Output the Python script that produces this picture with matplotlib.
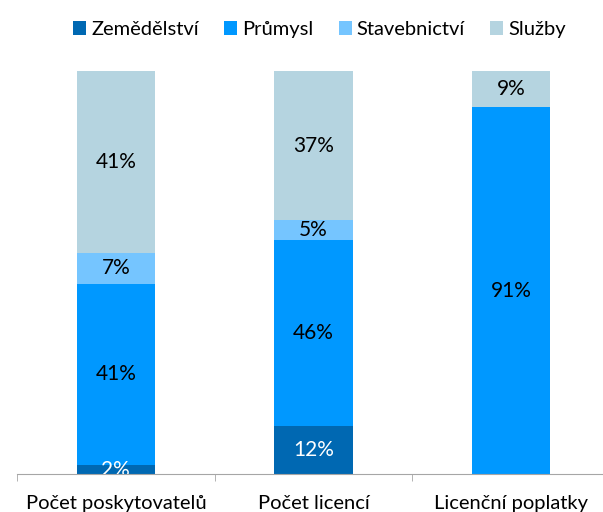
import numpy as np
import matplotlib
matplotlib.use("Agg")
from matplotlib import pyplot as plt

plt.rcParams['font.family'] = ['Lato', 'DejaVu Sans']

categories = ["Počet poskytovatelů", "Počet licencí", "Licenční poplatky"]
series = ["Zemědělství", "Průmysl", "Stavebnictví", "Služby"]
zemedelstvi = [2, 12, 0]
prumysl = [41, 46, 91]
stavebnictvi = [7, 5, 0]
sluzby = [41, 37, 9]
colors = ["#0068B2", "#0098FF", "#75C5FF", "#B5D4E0"]
label_colors = ["white", "black", "black", "black"]

data = np.array([zemedelstvi, prumysl, stavebnictvi, sluzby], dtype=float)
shares = data / data.sum(axis=0)

fig = plt.figure(figsize=(6.03, 5.12), dpi=100)
ax = fig.add_axes([17/603, 38/512, (610-17)/603, (474-71)/512])

x = np.arange(len(categories))
bottom = np.zeros(len(categories))
for i, name in enumerate(series):
    ax.bar(x, shares[i], 0.395, bottom=bottom, color=colors[i], label=name)
    for j in range(len(categories)):
        if data[i, j] > 0:
            ax.text(x[j], bottom[j] + shares[i, j] / 2, "%d%%" % data[i, j],
                    ha="center", va="center", fontsize=15, color=label_colors[i],
                    clip_on=True)
    bottom += shares[i]

ax.set_xlim(-0.5, 2.5)
ax.set_ylim(0, 1)
ax.set_yticks([])
for s in ["top", "left", "right"]:
    ax.spines[s].set_visible(False)
ax.spines["bottom"].set_color("#A6A6A6")
ax.set_xticks(x)
ax.set_xticklabels(categories, fontsize=14.5)
ax.tick_params(axis="x", which="major", length=0, pad=15)
ax.set_xticks([-0.5, 0.5, 1.5, 2.5], minor=True)
ax.tick_params(axis="x", which="minor", length=5, color="#A6A6A6")

fig.legend(loc="upper left", bbox_to_anchor=(65/603, 1 - 13/512), ncol=4,
           frameon=False, fontsize=14.5, handlelength=0.65, handleheight=0.65,
           handletextpad=0.25, columnspacing=1.25, borderaxespad=0)

plt.savefig("out.png", dpi=100)
